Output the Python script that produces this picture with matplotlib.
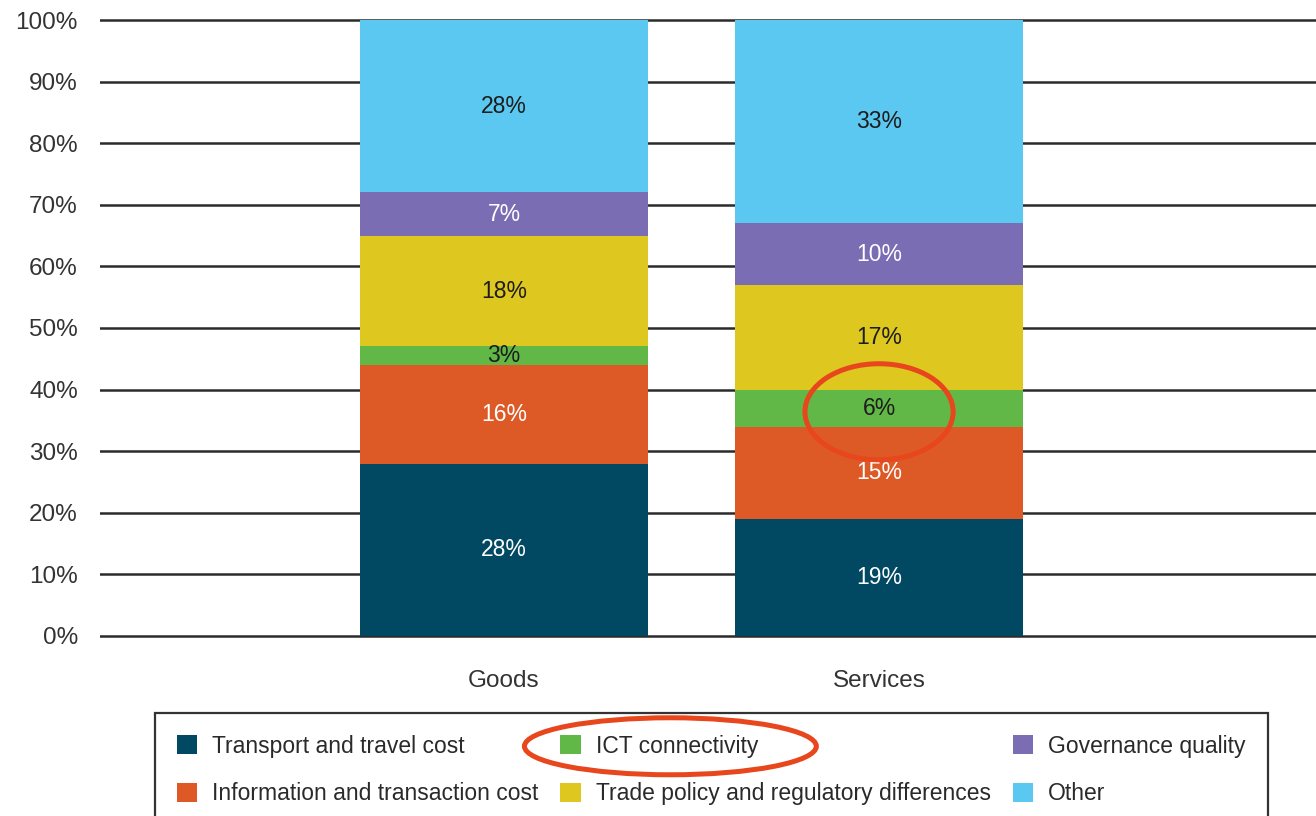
import matplotlib
matplotlib.use("Agg")
import matplotlib.pyplot as plt
from matplotlib.patches import Ellipse
from matplotlib.transforms import Bbox
import numpy as np

plt.rcParams["font.family"] = ["Liberation Sans", "DejaVu Sans"]

# Decomposition of trade costs (% share of each driver)
categories = ["Goods", "Services"]
drivers = [
    "Transport and travel cost",
    "Information and transaction cost",
    "ICT connectivity",
    "Trade policy and regulatory differences",
    "Governance quality",
    "Other",
]
goods_shares = [28, 16, 3, 18, 7, 28]
services_shares = [19, 15, 6, 17, 10, 33]
y_ticks = [0, 10, 20, 30, 40, 50, 60, 70, 80, 90, 100]

colors = ["#014862", "#DD5A27", "#62B846", "#DEC81F", "#7A6DB3", "#5BC8F2"]
label_colors = ["white", "white", "#1d1d1d", "#1d1d1d", "white", "#1d1d1d"]
highlight = "#E8461C"

W, H = 1316, 816
fig = plt.figure(figsize=(W / 100, H / 100), dpi=100)
ax = fig.add_axes([100 / W, 1 - 646 / H, 1216 / W, 636 / H])

x = np.arange(len(categories))
shares = np.array([goods_shares, services_shares], dtype=float).T
bottoms = np.zeros(len(categories))
containers = []
for i, name in enumerate(drivers):
    bc = ax.bar(x, shares[i], bottom=bottoms, width=0.768, color=colors[i],
                label=name, zorder=3, linewidth=0)
    containers.append(bc)
    for xi, v, b in zip(x, shares[i], bottoms):
        ax.text(xi, b + v / 2, f"{v:.0f}%", ha="center", va="center",
                fontsize=16.5, color=label_colors[i], zorder=4)
    bottoms = bottoms + shares[i]

ax.set_xlim(-1.077, 2.165)
ax.set_ylim(-10 / 6.16, 100 + 10 / 6.16)
ax.set_yticks(y_ticks)
ax.set_yticklabels([f"{t}%" for t in y_ticks])
ax.set_xticks(x)
ax.set_xticklabels(categories)
ax.tick_params(axis="y", length=0, pad=16, labelsize=17.5, labelcolor="#333333")
ax.tick_params(axis="x", length=0, pad=17, labelsize=17.5, labelcolor="#333333")
for s in ax.spines.values():
    s.set_visible(False)
ax.yaxis.grid(True, color="#2b2b2b", linewidth=1.8)
ax.set_axisbelow(True)

leg = fig.legend(
    handles=containers, labels=drivers, ncol=3,
    loc="upper left", bbox_to_anchor=(155 / W, 1 - 713 / H),
    bbox_transform=fig.transFigure, borderaxespad=0,
    fontsize=16.5, frameon=True, fancybox=False,
    edgecolor="#333333", framealpha=1,
    handlelength=0.9, handleheight=0.9, handletextpad=0.65,
    columnspacing=0.95, labelspacing=1.07, borderpad=0.95,
)
leg.get_frame().set_linewidth(1.6)
for t in leg.get_texts():
    t.set_color("#2a2a2a")

# Highlight the ICT share for services
ict = drivers.index("ICT connectivity")
svc = categories.index("Services")
ict_mid = services_shares[0] + services_shares[1] + services_shares[ict] / 2
ax.add_patch(Ellipse((x[svc], ict_mid - 0.6), 0.395, 15.6, fill=False,
                     edgecolor=highlight, linewidth=3.6, zorder=6,
                     clip_on=False))

# Highlight the ICT entry in the legend
fig.canvas.draw()
renderer = fig.canvas.get_renderer()
txt_bb = leg.get_texts()[ict].get_window_extent(renderer)
hdl_bb = leg.legend_handles[ict].get_window_extent(renderer)
bb = Bbox.union([txt_bb, hdl_bb])
cx = (bb.x0 + bb.x1) / 2 + 11
cy = (bb.y0 + bb.y1) / 2
fig.add_artist(Ellipse((cx, cy), bb.width + 94, 57, fill=False,
                       edgecolor=highlight, linewidth=3.6,
                       transform=None, zorder=10))

fig.savefig("out.png", dpi=100, facecolor="white")
